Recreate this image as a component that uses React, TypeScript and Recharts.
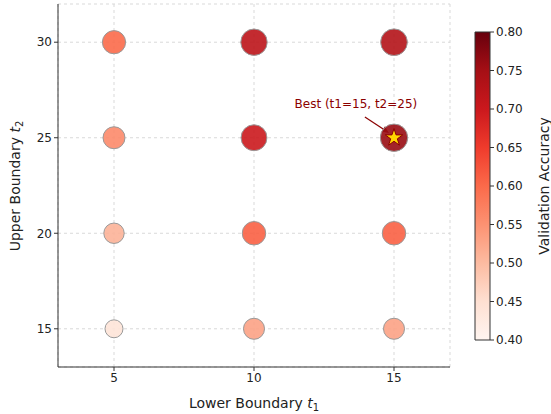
import React from 'react';
import {
  ScatterChart,
  Scatter,
  XAxis,
  YAxis,
  ZAxis,
  CartesianGrid,
  Cell,
  ReferenceDot,
  ReferenceLine,
  ComposedChart,
  ReferenceArea,
  Line,
} from 'recharts';

// grid of boundaries
const t1Values = [5, 10, 15];
const t2Values = [15, 20, 25, 30];

// validation accuracy per t2 row (t1 = 5, 10, 15)
const accT2_15 = [0.44, 0.53, 0.53];
const accT2_20 = [0.51, 0.61, 0.61];
const accT2_25 = [0.56, 0.70, 0.76];
const accT2_30 = [0.60, 0.72, 0.73];

const bestPoint = { t1: 15, t2: 25, acc: 0.76 };
const bestLabel = 'Best (t1=15, t2=25)';

const colorbarTicks = [0.4, 0.45, 0.5, 0.55, 0.6, 0.65, 0.7, 0.75, 0.8];
const VMIN = 0.4;
const VMAX = 0.8;

// matplotlib "Reds" anchor colours
const reds = ['#fff5f0', '#fee0d2', '#fcbba1', '#fc9272', '#fb6a4a', '#ef3b2c', '#cb181d', '#a50f15', '#67000d'];

function hexToRgb(h: string) {
  return [parseInt(h.slice(1, 3), 16), parseInt(h.slice(3, 5), 16), parseInt(h.slice(5, 7), 16)];
}

function redsColor(v: number) {
  let t = (v - VMIN) / (VMAX - VMIN);
  t = Math.max(0, Math.min(1, t));
  const pos = t * (reds.length - 1);
  const i = Math.min(reds.length - 2, Math.floor(pos));
  const f = pos - i;
  const a = hexToRgb(reds[i]);
  const b = hexToRgb(reds[i + 1]);
  const c = a.map((x, k) => Math.round(x + (b[k] - x) * f));
  return `rgb(${c[0]},${c[1]},${c[2]})`;
}

const rows = [accT2_15, accT2_20, accT2_25, accT2_30];
const points = t2Values.flatMap((t2, r) =>
  t1Values.map((t1, c) => ({ t1, t2, acc: rows[r][c] }))
);

// two invisible points so the colorbar chart lays out its axis
const colorbarData = [
  { x: 0, v: VMIN },
  { x: 1, v: VMAX },
];

const FONT = 'DejaVu Sans, sans-serif';
const DARKRED = '#8b0000';

const ArrowShape = (props: any) => {
  const { x1, y1, x2, y2 } = props;
  if ([x1, y1, x2, y2].some((v) => typeof v !== 'number')) return null;
  const ang = Math.atan2(y2 - y1, x2 - x1);
  const len = 7;
  const w = 3;
  const bx = x2 - len * Math.cos(ang);
  const by = y2 - len * Math.sin(ang);
  const px = -Math.sin(ang) * w;
  const py = Math.cos(ang) * w;
  return (
    <g>
      <line x1={x1} y1={y1} x2={bx} y2={by} stroke={DARKRED} strokeWidth={1.2} />
      <polygon
        points={`${x2},${y2} ${bx + px},${by + py} ${bx - px},${by - py}`}
        fill={DARKRED}
      />
    </g>
  );
};

export default function App() {
  return (
    <div style={{ position: 'absolute', left: 0, top: 0, width: 551, height: 414, background: '#fff' }}>
      <div style={{ position: 'absolute', left: 0, top: 0 }}>
        <ScatterChart width={470} height={414} margin={{ top: 4, right: 20, bottom: 0, left: 0 }}>
          <CartesianGrid stroke="#d9d9d9" strokeDasharray="3 3" />
          <XAxis
            type="number"
            dataKey="t1"
            domain={[3, 17]}
            ticks={t1Values}
            allowDataOverflow
            height={47}
            stroke="#333"
            tickLine={{ stroke: '#333' }}
            tickSize={4}
            tick={{ fill: '#222', fontSize: 12, fontFamily: FONT }}
            label={{
              content: () => (
                <text x={254} y={408} textAnchor="middle" fontSize={14} fontFamily={FONT} fill="#222">
                  Lower Boundary <tspan fontStyle="italic">t</tspan>
                  <tspan fontSize={10} dy={3}>1</tspan>
                </text>
              ),
            }}
          />
          <YAxis
            type="number"
            dataKey="t2"
            domain={[13, 32]}
            ticks={t2Values}
            allowDataOverflow
            width={58}
            stroke="#333"
            tickLine={{ stroke: '#333' }}
            tickSize={4}
            tick={{ fill: '#222', fontSize: 12, fontFamily: FONT }}
            label={{
              content: () => (
                <text
                  x={20}
                  y={186}
                  transform="rotate(-90 20 186)"
                  textAnchor="middle"
                  fontSize={14}
                  fontFamily={FONT}
                  fill="#222"
                >
                  Upper Boundary <tspan fontStyle="italic">t</tspan>
                  <tspan fontSize={10} dy={3}>2</tspan>
                </text>
              ),
            }}
          />
          <ZAxis type="number" dataKey="acc" domain={[0.44, 0.76]} range={[254, 590]} />
          <ZAxis zAxisId="star" type="number" dataKey="acc" range={[95, 95]} />
          <Scatter data={points} isAnimationActive={false} stroke="#999" strokeWidth={1} fillOpacity={0.9}>
            {points.map((p, i) => (
              <Cell key={i} fill={redsColor(p.acc)} />
            ))}
          </Scatter>
          <Scatter
            data={[bestPoint]}
            zAxisId="star"
            shape="star"
            fill="#ffd700"
            stroke={DARKRED}
            strokeWidth={1}
            isAnimationActive={false}
          />
          <ReferenceLine
            segment={[
              { x: 13.96, y: 26.09 },
              { x: 14.82, y: 25.25 },
            ]}
            shape={ArrowShape}
            ifOverflow="visible"
          />
          <ReferenceDot
            x={13.64}
            y={26.77}
            r={0}
            fill="none"
            stroke="none"
            label={{ value: bestLabel, position: 'center', fill: DARKRED, fontSize: 12, fontFamily: FONT }}
          />
        </ScatterChart>
      </div>
      <div style={{ position: 'absolute', left: 440, top: 0 }}>
        <ComposedChart width={111} height={414} data={colorbarData} margin={{ top: 32, right: 5, bottom: 74, left: 35 }}>
          <defs>
            <linearGradient id="redsGrad" x1="0" y1="1" x2="0" y2="0">
              {reds.map((c, i) => (
                <stop key={i} offset={`${(i / (reds.length - 1)) * 100}%`} stopColor={c} />
              ))}
            </linearGradient>
          </defs>
          <XAxis type="number" dataKey="x" domain={[0, 1]} hide />
          <YAxis
            type="number"
            orientation="right"
            domain={[VMIN, VMAX]}
            ticks={colorbarTicks}
            width={56}
            axisLine={false}
            tickLine={{ stroke: '#333' }}
            tickSize={4}
            tickFormatter={(v: number) => v.toFixed(2)}
            tick={{ fill: '#222', fontSize: 12, fontFamily: FONT }}
            label={{
              content: () => (
                <text
                  x={109}
                  y={186}
                  transform="rotate(-90 109 186)"
                  textAnchor="middle"
                  fontSize={14}
                  fontFamily={FONT}
                  fill="#222"
                >
                  Validation Accuracy
                </text>
              ),
            }}
          />
          <ReferenceArea x1={0} x2={1} y1={VMIN} y2={VMAX} fill="url(#redsGrad)" fillOpacity={1} stroke="#333" strokeWidth={1} />
          <Line dataKey="v" stroke="none" dot={false} activeDot={false} isAnimationActive={false} />
        </ComposedChart>
      </div>
    </div>
  );
}
